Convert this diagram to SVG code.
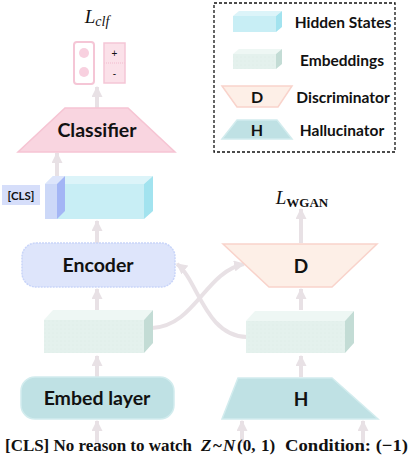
<svg xmlns="http://www.w3.org/2000/svg" width="410" height="460" viewBox="0 0 410 460">
<defs>
<marker id="ah" viewBox="0 0 10 10" refX="9" refY="5" markerUnits="userSpaceOnUse" markerWidth="11" markerHeight="11" orient="auto">
<path d="M0,0 L10,5 L0,10 z" fill="#e8e1e5"/>
</marker>
<pattern id="dots" width="4" height="4" patternUnits="userSpaceOnUse">
<rect width="4" height="4" fill="#e4f1ed"/>
<circle cx="1" cy="1" r="0.45" fill="#d6e8e2"/>
</pattern>
<style>
.lbl{font-family:Lato,"Open Sans",sans-serif;font-weight:bold;fill:#111;text-anchor:middle}
.leg{font-family:Lato,"Open Sans",sans-serif;font-weight:bold;font-size:15.5px;fill:#111;text-anchor:middle}
.ser{font-family:"Liberation Serif",serif;font-weight:bold;font-size:17px;fill:#111}
.arr{stroke:#e8e1e5;stroke-width:4;fill:none;marker-end:url(#ah)}
.hsF{fill:#c8eef5}.hsT{fill:#dcf4f9}.hsR{fill:#a2e3ef}
.emF{fill:url(#dots)}.emT{fill:#eef7f4}.emR{fill:#c3dcd5}
.teal{fill:#bfe1e4;stroke:#d2ecee;stroke-width:1.5}
</style>
</defs>

<g id="connectors">
<line class="arr" x1="97" y1="108" x2="97" y2="87"/>
<line class="arr" x1="57" y1="176" x2="57" y2="153"/>
<line class="arr" x1="97" y1="243" x2="97" y2="221"/>
<line class="arr" x1="97" y1="310" x2="97" y2="289"/>
<line class="arr" x1="97" y1="377" x2="97" y2="356"/>
<line class="arr" x1="97" y1="443" x2="97" y2="421"/>
<line class="arr" x1="301" y1="243" x2="301" y2="209"/>
<line class="arr" x1="301" y1="310" x2="301" y2="289"/>
<line class="arr" x1="301" y1="377" x2="301" y2="356"/>
<line class="arr" x1="242" y1="443" x2="242" y2="421"/>
<line class="arr" x1="363" y1="443" x2="363" y2="421"/>
<path class="arr" d="M152,328 C195,326 205,272 244,264"/>
<path class="arr" d="M247,337 C205,336 198,280 177,264"/>
</g>

<g id="loss-clf">
<text x="97" y="23" font-family="Liberation Serif,serif" font-style="italic" font-size="19" text-anchor="middle" fill="#111">L<tspan font-size="14" dy="3">clf</tspan></text>
</g>

<g id="output">
<rect x="74" y="42" width="20" height="42" rx="3" fill="#fff" stroke="#f5c6d6" stroke-width="2"/>
<circle cx="84" cy="53" r="5" fill="#f8d0df"/>
<circle cx="84" cy="72" r="5" fill="#f8d0df"/>
<rect x="104" y="43" width="21" height="40" fill="#fbe1e9" stroke="#f5c6d6" stroke-width="1.5"/>
<line x1="104" y1="63" x2="125" y2="63" stroke="#f5c6d6" stroke-width="1.5" stroke-dasharray="1,1"/>
<text x="114.5" y="57" font-family="Liberation Sans,sans-serif" font-size="10" text-anchor="middle" fill="#111">+</text>
<text x="114.5" y="77" font-family="Liberation Sans,sans-serif" font-size="10" text-anchor="middle" fill="#111">-</text>
</g>

<g id="classifier">
<polygon points="65,108 128,108 175,152 18,152" fill="#f9d5e0" stroke="#f6c4d3" stroke-width="1.5"/>
<text class="lbl" x="97" y="137" font-size="19.5">Classifier</text>
</g>

<g id="hidden-states">
<rect class="hsF" x="45" y="184" width="99" height="35"/>
<polygon class="hsT" points="45,184 53,176 153,176 144,184"/>
<polygon class="hsR" points="144,184 153,176 153,211 144,219"/>
<rect x="45" y="184" width="12" height="35" fill="#ccd8f8"/>
<polygon points="45,184 53,176 65,176 57,184" fill="#dde5fb"/>
<polygon points="57,184 65,176 65,211 57,219" fill="#a3b5f5"/>
</g>

<g id="cls-label">
<rect x="2" y="185" width="38" height="20" fill="#d6defa"/>
<text x="21" y="199.5" font-family="Lato,sans-serif" font-weight="bold" font-size="11.5" text-anchor="middle" fill="#111">[CLS]</text>
</g>

<g id="encoder">
<rect x="22" y="243" width="153" height="44" rx="14" fill="#dee5fb" stroke="#c9d5f9" stroke-width="1.5" stroke-dasharray="2,1"/>
<text class="lbl" x="98" y="272" font-size="19.5">Encoder</text>
</g>

<g id="embeddings-left">
<rect class="emF" x="44" y="320" width="100" height="33"/>
<polygon class="emT" points="44,320 53,310 153,310 144,320"/>
<polygon class="emR" points="144,320 153,310 153,343 144,353"/>
</g>

<g id="embed-layer">
<rect class="teal" x="21" y="377" width="153" height="42" rx="14"/>
<text class="lbl" x="97" y="405" font-size="19.5">Embed layer</text>
</g>

<g id="loss-wgan">
<text x="302" y="204" font-family="Liberation Serif,serif" font-style="italic" font-size="19" text-anchor="middle" fill="#111">L<tspan font-style="normal" font-weight="bold" font-size="13" dy="3">WGAN</tspan></text>
</g>

<g id="discriminator">
<polygon points="223,244 377,244 332,287 269,287" fill="#fdefe7" stroke="#f9d3cb" stroke-width="1.5"/>
<text class="lbl" x="301" y="273" font-size="19">D</text>
</g>

<g id="embeddings-right">
<rect class="emF" x="246" y="321" width="99" height="32"/>
<polygon class="emT" points="246,321 255,311 354,311 345,321"/>
<polygon class="emR" points="345,321 354,311 354,343 345,353"/>
</g>

<g id="hallucinator">
<polygon class="teal" points="238,378 332,378 378,419 222,419"/>
<text class="lbl" x="301" y="406" font-size="19">H</text>
</g>

<g id="inputs">
<text class="ser" x="5" y="451" textLength="187" lengthAdjust="spacingAndGlyphs">[CLS] No reason to watch</text>
<text class="ser" y="451"><tspan x="201" font-style="italic">Z</tspan><tspan x="213">~</tspan><tspan x="223" font-style="italic">N</tspan><tspan x="237">(0,</tspan><tspan x="261">1)</tspan></text>
<text class="ser" x="285" y="451" textLength="123" lengthAdjust="spacingAndGlyphs">Condition: (−1)</text>
</g>

<g id="legend">
<rect x="214" y="3" width="181" height="149" fill="none" stroke="#111" stroke-width="1.3" stroke-dasharray="3,2"/>
<rect class="hsF" x="233" y="16" width="43" height="16"/>
<polygon class="hsT" points="233,16 239,11 282,11 276,16"/>
<polygon class="hsR" points="276,16 282,11 282,27 276,32"/>
<text class="leg" x="343" y="28">Hidden States</text>
<rect class="emF" x="233" y="54" width="43" height="15"/>
<polygon class="emT" points="233,54 239,49 282,49 276,54"/>
<polygon class="emR" points="276,54 282,49 282,64 276,69"/>
<text class="leg" x="342" y="66">Embeddings</text>
<polygon points="222,86 292,86 278,107 237,107" fill="#fdefe7" stroke="#f9d3cb" stroke-width="1.5"/>
<text class="lbl" x="257" y="103" font-size="16">D</text>
<text class="leg" x="343" y="103">Discriminator</text>
<polygon class="teal" points="237,120 277,120 292,139 222,139"/>
<text class="lbl" x="257" y="136" font-size="16">H</text>
<text class="leg" x="342" y="136">Hallucinator</text>
</g>
</svg>
